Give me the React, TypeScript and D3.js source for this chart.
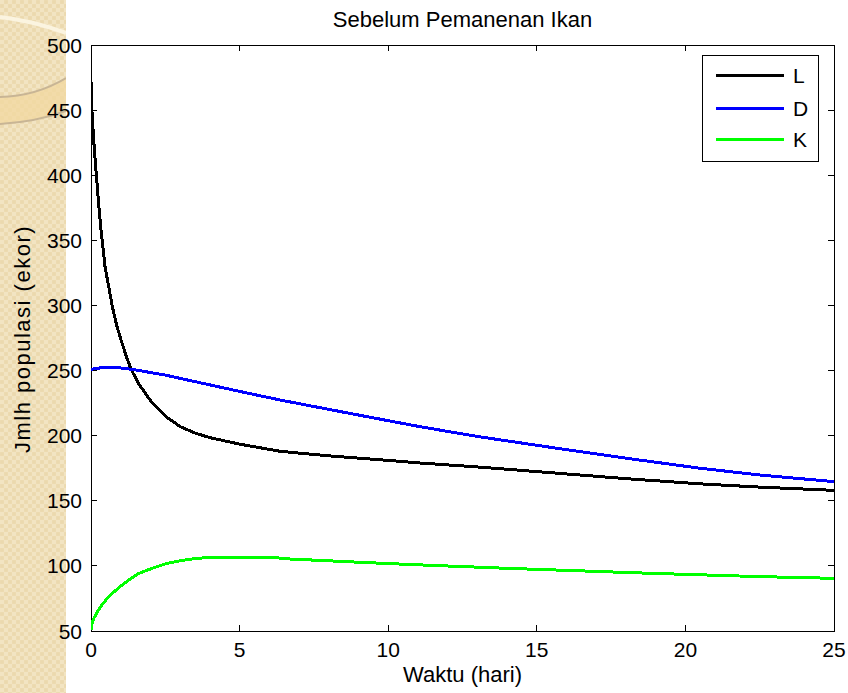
import React from 'react';
import * as d3 from 'd3';

const W = 848;
const H = 693;
const plot = { left: 91, top: 45, right: 834, bottom: 631 };

const titleText = 'Sebelum Pemanenan Ikan';
const xLabel = 'Waktu (hari)';
const yLabel = 'Jmlh populasi (ekor)';

const xTicks = [0, 5, 10, 15, 20, 25];
const yTicks = [50, 100, 150, 200, 250, 300, 350, 400, 450, 500];

// L: larva population over time (days)
const lDays = [0, 0.03, 0.09, 0.17, 0.23, 0.28, 0.34, 0.4, 0.47, 0.6, 0.72, 0.86, 1.01, 1.2, 1.35, 1.6, 2, 2.5, 3, 3.5, 4, 5, 6.36, 8, 10, 11.07, 13, 15.78, 18, 20.49, 22.5, 25];
const lPop = [472, 450, 427, 403, 386, 372, 357, 345, 330, 314, 299, 285, 273.5, 260, 251, 240, 227, 215, 207, 202, 198.5, 193.5, 188, 184.5, 181, 179, 176, 171, 167, 163, 160.5, 158];

// D: juvenile population
const dDays = [0, 0.3, 0.7, 1, 1.5, 2, 2.5, 3, 4, 5, 6.36, 8, 10, 11.07, 13, 15.78, 18, 20.49, 22.5, 25];
const dPop = [251, 252, 252.5, 252, 250.5, 248.5, 246.5, 244, 239, 234, 227.4, 220.2, 211.5, 206.9, 199.4, 190, 182.7, 175, 169.8, 164.7];

// K: adult population
const kDays = [0, 0.02, 0.1, 0.3, 0.58, 0.92, 1.26, 1.59, 2.04, 2.49, 2.94, 3.39, 3.95, 5, 6.2, 6.5, 7.9, 9.3, 10.8, 12.25, 13.7, 15.3, 16.95, 18.58, 20.42, 22.3, 24.26, 25];
const kPop = [50.5, 55, 60, 68, 76, 83, 89, 94, 98, 101.5, 103.7, 105.3, 106.5, 106.8, 106.5, 105.5, 104, 102.5, 101, 99.7, 98.4, 97.1, 95.8, 94.5, 93.2, 91.9, 90.8, 90.5];

const seriesNames = ['L', 'D', 'K'];
const seriesColors = ['#000000', '#0000ff', '#00ff00'];
const seriesDays = [lDays, dDays, kDays];
const seriesPop = [lPop, dPop, kPop];

const FONT = '"Liberation Sans", Arial, Helvetica, sans-serif';

export default function App() {
  const x = d3.scaleLinear().domain([0, 25]).range([plot.left, plot.right]);
  const y = d3.scaleLinear().domain([50, 500]).range([plot.bottom, plot.top]);

  const line = d3
    .line<[number, number]>()
    .x((d) => x(d[0]))
    .y((d) => y(d[1]));

  const series = seriesNames.map((name, i) => ({
    name,
    color: seriesColors[i],
    points: seriesDays[i].map((t, j) => [t, seriesPop[i][j]] as [number, number]),
  }));

  const tickLen = 6;
  const legend = { x: 702, y: 55, w: 116, h: 106 };
  const legendRows = [75, 108, 139];

  return (
    <svg
      width={W}
      height={H}
      viewBox={`0 0 ${W} ${H}`}
      style={{ position: 'absolute', left: 0, top: 0, background: '#ffffff' }}
      fontFamily={FONT}
    >
      <defs>
        <pattern id="weave" width="8" height="8" patternUnits="userSpaceOnUse">
          <rect width="8" height="8" fill="#eedcb3" />
          <rect x="0" y="0" width="4" height="4" fill="#f2e4c2" />
          <rect x="4" y="4" width="4" height="4" fill="#f2e4c2" />
          <rect x="5" y="1" width="2" height="2" fill="none" stroke="#e9d6a9" strokeWidth="0.6" />
          <rect x="1" y="5" width="2" height="2" fill="none" stroke="#e9d6a9" strokeWidth="0.6" />
        </pattern>
        <clipPath id="strip">
          <rect x="0" y="0" width="66" height={H} />
        </clipPath>
        <clipPath id="plotArea">
          <rect x={plot.left} y={plot.top - 2} width={plot.right - plot.left} height={plot.bottom - plot.top + 4} />
        </clipPath>
      </defs>

      {/* decorative side strip */}
      <rect x="0" y="0" width="66" height={H} fill="url(#weave)" />
      <g clipPath="url(#strip)">
        <path d="M0,97 Q36,96 66,78 L66,111 Q36,122 0,124 Z" fill="#f1d8a0" opacity="0.75" />
        <path d="M0,97 Q36,96 66,78" fill="none" stroke="#c8b595" strokeWidth="2" />
        <path d="M0,124 Q36,122 66,111" fill="none" stroke="#c8b595" strokeWidth="2" />
        <path d="M0,17 Q34,21 66,33" fill="none" stroke="#fbf4e0" strokeWidth="4" />
      </g>

      {/* title */}
      <text x={(plot.left + plot.right) / 2} y={27} textAnchor="middle" fontSize={22} fill="#000">
        {titleText}
      </text>

      {/* axes frame */}
      <rect
        x={plot.left}
        y={plot.top}
        width={plot.right - plot.left}
        height={plot.bottom - plot.top}
        fill="#ffffff"
        stroke="#000"
        strokeWidth={1}
        shapeRendering="crispEdges"
      />

      {/* ticks on all four sides */}
      <g stroke="#000" strokeWidth={1} shapeRendering="crispEdges">
        {xTicks.map((t) => (
          <g key={`xt${t}`}>
            <line x1={x(t)} x2={x(t)} y1={plot.bottom} y2={plot.bottom - tickLen} />
            <line x1={x(t)} x2={x(t)} y1={plot.top} y2={plot.top + tickLen} />
          </g>
        ))}
        {yTicks.map((v) => (
          <g key={`yt${v}`}>
            <line x1={plot.left} x2={plot.left + tickLen} y1={y(v)} y2={y(v)} />
            <line x1={plot.right} x2={plot.right - tickLen} y1={y(v)} y2={y(v)} />
          </g>
        ))}
      </g>

      {/* tick labels */}
      <g fontSize={21} fill="#000">
        {xTicks.map((t) => (
          <text key={`xl${t}`} x={x(t)} y={657} textAnchor="middle">
            {t}
          </text>
        ))}
        {yTicks.map((v) => (
          <text key={`yl${v}`} x={82} y={y(v) + 7.5} textAnchor="end">
            {v}
          </text>
        ))}
      </g>

      {/* data lines */}
      <g clipPath="url(#plotArea)">
        {series.map((s) => (
          <path
            key={s.name}
            d={line(s.points) || ''}
            fill="none"
            stroke={s.color}
            strokeWidth={3}
            strokeLinejoin="round"
            shapeRendering="crispEdges"
          />
        ))}
      </g>

      {/* legend */}
      <rect
        x={legend.x}
        y={legend.y}
        width={legend.w}
        height={legend.h}
        fill="#ffffff"
        stroke="#000"
        strokeWidth={1}
        shapeRendering="crispEdges"
      />
      {series.map((s, i) => (
        <g key={`lg${s.name}`}>
          <line
            x1={716}
            x2={784}
            y1={legendRows[i]}
            y2={legendRows[i]}
            stroke={s.color}
            strokeWidth={3}
            shapeRendering="crispEdges"
          />
          <text x={793} y={legendRows[i] + 7.5} fontSize={21} fill="#000">
            {s.name}
          </text>
        </g>
      ))}

      {/* axis labels */}
      <text x={(plot.left + plot.right) / 2} y={682} textAnchor="middle" fontSize={22} fill="#000">
        {xLabel}
      </text>
      <text
        transform={`translate(30, ${(plot.top + plot.bottom) / 2 + 1}) rotate(-90)`}
        textAnchor="middle"
        fontSize={22}
        letterSpacing={1.5}
        fill="#000"
      >
        {yLabel}
      </text>
    </svg>
  );
}
